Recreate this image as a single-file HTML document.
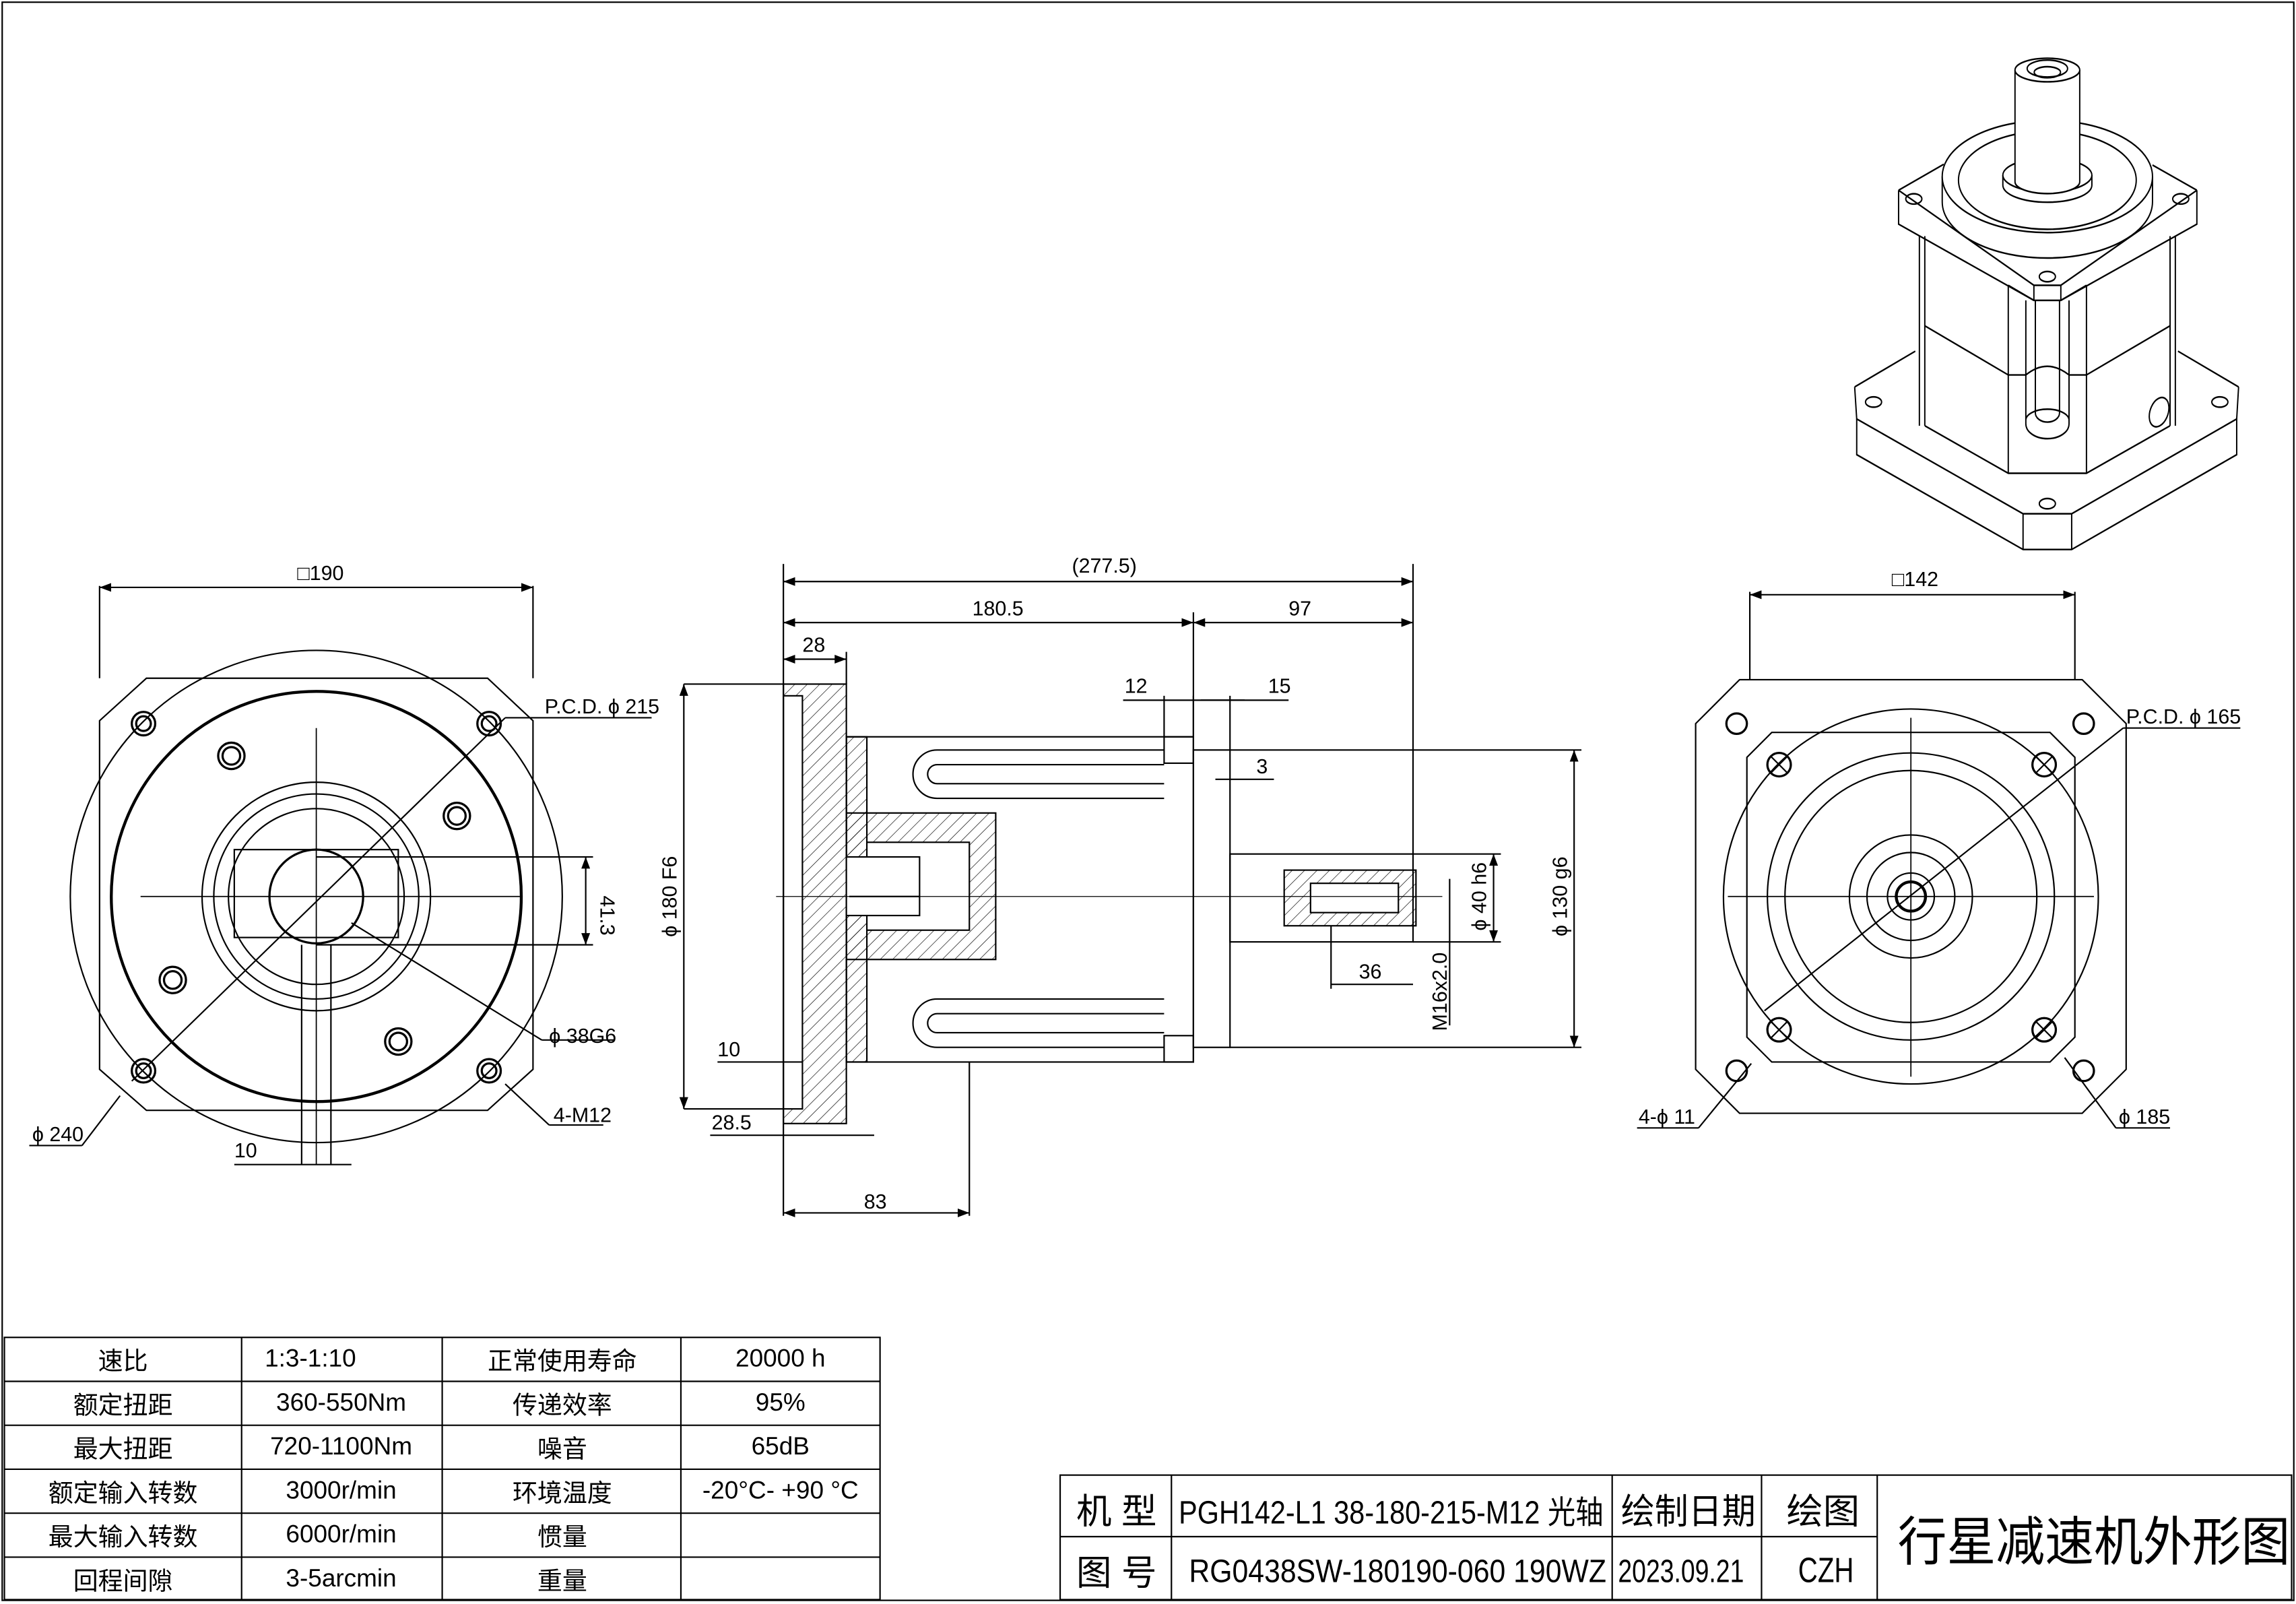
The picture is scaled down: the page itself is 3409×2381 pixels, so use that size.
<!DOCTYPE html>
<html><head><meta charset="utf-8"><style>
html,body{margin:0;padding:0;background:#fff}
svg{display:block}
text{font-family:"Liberation Sans","Noto Sans CJK SC",sans-serif;fill:#000}
</style></head><body>
<svg width="3409" height="2381" viewBox="0 0 1568 1095" preserveAspectRatio="none" xmlns="http://www.w3.org/2000/svg">
<defs>
<pattern id="h" width="6" height="6" patternUnits="userSpaceOnUse" patternTransform="rotate(45)"><line x1="0" y1="0" x2="0" y2="6" stroke="#000" stroke-width="0.6"/></pattern>
<marker id="a" markerWidth="8" markerHeight="6" refX="8" refY="3" orient="auto-start-reverse"><path d="M0,0 L8,3 L0,6 z" fill="#000"/></marker>
</defs>
<g fill="none" stroke="#000" stroke-width="1">
<rect x="1.5" y="1.5" width="1565" height="1091"/>

<!-- LEFT VIEW -->
<path d="M100,463 L333,463 L364,492 L364,730 L333,758 L100,758 L68,730 L68,492 Z"/>
<circle cx="216" cy="612" r="168"/>
<circle cx="216" cy="612" r="140" stroke-width="2"/>
<circle cx="216" cy="612" r="78"/>
<circle cx="216" cy="612" r="70"/>
<circle cx="216" cy="612" r="60"/>
<circle cx="216" cy="612" r="32" stroke-width="1.5"/>
<rect x="160" y="580" width="112" height="60"/>
<g stroke-width="1.5">
<circle cx="98" cy="494" r="8"/><circle cx="98" cy="494" r="5"/>
<circle cx="334" cy="494" r="8"/><circle cx="334" cy="494" r="5"/>
<circle cx="98" cy="731" r="8"/><circle cx="98" cy="731" r="5"/>
<circle cx="334" cy="731" r="8"/><circle cx="334" cy="731" r="5"/>
<circle cx="158" cy="516" r="9"/><circle cx="158" cy="516" r="6"/>
<circle cx="312" cy="557" r="9"/><circle cx="312" cy="557" r="6"/>
<circle cx="118" cy="669" r="9"/><circle cx="118" cy="669" r="6"/>
<circle cx="272" cy="711" r="9"/><circle cx="272" cy="711" r="6"/>
</g>
<line x1="96" y1="612" x2="356" y2="612" stroke-width="0.8"/>
<line x1="216" y1="497" x2="216" y2="795" stroke-width="0.8"/>
<line x1="206" y1="645" x2="206" y2="795"/><line x1="226" y1="645" x2="226" y2="795"/>
<line x1="68" y1="400" x2="68" y2="463"/><line x1="364" y1="400" x2="364" y2="463"/>
<line x1="68" y1="401" x2="364" y2="401" marker-start="url(#a)" marker-end="url(#a)"/>
<line x1="90" y1="738" x2="345" y2="490"/><line x1="345" y1="490" x2="445" y2="490"/>
<line x1="216" y1="585" x2="405" y2="585"/><line x1="216" y1="645" x2="405" y2="645"/>
<line x1="400" y1="585" x2="400" y2="645" marker-start="url(#a)" marker-end="url(#a)"/>
<line x1="240" y1="630" x2="370" y2="710"/><line x1="370" y1="710" x2="420" y2="710"/>
<line x1="345" y1="740" x2="375" y2="768"/><line x1="375" y1="768" x2="412" y2="768"/>
<line x1="82" y1="748" x2="56" y2="782"/><line x1="20" y1="782" x2="56" y2="782"/>
<line x1="160" y1="795" x2="240" y2="795"/>

<!-- MIDDLE VIEW -->
<rect x="535" y="467" width="43" height="300" fill="url(#h)"/>
<rect x="535" y="475" width="13" height="282" fill="#fff"/>
<rect x="578" y="503" width="237" height="222"/>
<rect x="578" y="503" width="14" height="222" fill="url(#h)"/>
<rect x="578" y="555" width="102" height="100" fill="url(#h)"/>
<rect x="592" y="575" width="70" height="60" fill="#fff"/>
<rect x="578" y="585" width="50" height="40" fill="#fff"/>
<line x1="580" y1="612" x2="628" y2="612"/>
<path d="M640,512 L795,512 M640,545 L795,545 M640,512 A16,16 0 0 0 640,545 M640,522 L795,522 M640,535 L795,535 M640,522 A6,6 0 0 0 640,535"/>
<path d="M640,682 L795,682 M640,715 L795,715 M640,682 A16,16 0 0 0 640,715 M640,692 L795,692 M640,705 L795,705 M640,692 A6,6 0 0 0 640,705"/>
<rect x="795" y="503" width="20" height="18"/><rect x="795" y="707" width="20" height="18"/>
<rect x="815" y="512" width="25" height="203"/>
<rect x="840" y="583" width="125" height="60"/>
<rect x="877" y="594" width="90" height="38" fill="url(#h)"/>
<rect x="895" y="603" width="60" height="20" fill="#fff"/>
<line x1="530" y1="612" x2="985" y2="612" stroke-width="0.6"/>
<line x1="535" y1="385" x2="535" y2="830"/>
<line x1="965" y1="385" x2="965" y2="583"/>
<line x1="815" y1="418" x2="815" y2="503"/>
<line x1="535" y1="397" x2="965" y2="397" marker-start="url(#a)" marker-end="url(#a)"/>
<line x1="535" y1="425" x2="815" y2="425" marker-start="url(#a)" marker-end="url(#a)"/>
<line x1="815" y1="425" x2="965" y2="425" marker-start="url(#a)" marker-end="url(#a)"/>
<line x1="535" y1="450" x2="578" y2="450" marker-start="url(#a)" marker-end="url(#a)"/>
<line x1="578" y1="445" x2="578" y2="467"/>
<line x1="795" y1="475" x2="795" y2="503"/><line x1="815" y1="475" x2="815" y2="503"/><line x1="840" y1="475" x2="840" y2="512"/>
<line x1="767" y1="478" x2="850" y2="478"/><line x1="820" y1="478" x2="880" y2="478"/>
<line x1="830" y1="532" x2="870" y2="532"/><line x1="840" y1="512" x2="1080" y2="512"/><line x1="840" y1="715" x2="1080" y2="715"/>
<line x1="1075" y1="512" x2="1075" y2="715" marker-start="url(#a)" marker-end="url(#a)"/>
<line x1="467" y1="467" x2="535" y2="467"/><line x1="467" y1="757" x2="535" y2="757"/>
<line x1="467" y1="467" x2="467" y2="757" marker-start="url(#a)" marker-end="url(#a)"/>
<line x1="965" y1="583" x2="1025" y2="583"/><line x1="965" y1="643" x2="1025" y2="643"/>
<line x1="1020" y1="583" x2="1020" y2="643" marker-start="url(#a)" marker-end="url(#a)"/>
<line x1="990" y1="600" x2="990" y2="700"/>
<line x1="909" y1="632" x2="909" y2="675"/><line x1="909" y1="672" x2="965" y2="672"/>
<line x1="490" y1="725" x2="548" y2="725"/><line x1="485" y1="775" x2="597" y2="775"/>
<line x1="535" y1="828" x2="662" y2="828" marker-start="url(#a)" marker-end="url(#a)"/>
<line x1="662" y1="725" x2="662" y2="830"/>

<!-- RIGHT VIEW -->
<path d="M1188,464 L1422,464 L1452,494 L1452,730 L1422,760 L1188,760 L1158,730 L1158,494 Z"/>
<path d="M1210,500 L1400,500 L1417,517 L1417,708 L1400,725 L1210,725 L1193,708 L1193,517 Z"/>
<circle cx="1305" cy="612" r="128"/><circle cx="1305" cy="612" r="98"/><circle cx="1305" cy="612" r="86"/>
<circle cx="1305" cy="612" r="42"/><circle cx="1305" cy="612" r="30"/><circle cx="1305" cy="612" r="16"/><circle cx="1305" cy="612" r="10" stroke-width="2"/>
<g stroke-width="1.5">
<circle cx="1186" cy="494" r="7"/><circle cx="1423" cy="494" r="7"/><circle cx="1186" cy="731" r="7"/><circle cx="1423" cy="731" r="7"/>
<circle cx="1215" cy="522" r="8"/><circle cx="1396" cy="522" r="8"/><circle cx="1215" cy="703" r="8"/><circle cx="1396" cy="703" r="8"/>
</g>
<path d="M1209,516 l12,12 M1221,516 l-12,12 M1390,516 l12,12 M1402,516 l-12,12 M1209,697 l12,12 M1221,697 l-12,12 M1390,697 l12,12 M1402,697 l-12,12"/>
<line x1="1180" y1="612" x2="1430" y2="612" stroke-width="0.8"/><line x1="1305" y1="490" x2="1305" y2="735" stroke-width="0.8"/>
<line x1="1195" y1="404" x2="1195" y2="464"/><line x1="1417" y1="404" x2="1417" y2="464"/>
<line x1="1195" y1="406" x2="1417" y2="406" marker-start="url(#a)" marker-end="url(#a)"/>
<line x1="1205" y1="690" x2="1450" y2="497"/><line x1="1450" y1="497" x2="1530" y2="497"/>
<line x1="1196" y1="726" x2="1160" y2="770"/><line x1="1118" y1="770" x2="1160" y2="770"/>
<line x1="1410" y1="722" x2="1445" y2="770"/><line x1="1445" y1="770" x2="1482" y2="770"/>

<!-- ISO VIEW -->
<g stroke-width="0.9" transform="translate(0,38) scale(1,1.257) translate(0,-40)">
<path d="M1266.6,219.9 L1308,200.5 M1528.8,219.9 L1487.4,200.5"/>
<path d="M1266.6,219.9 L1268,237.3 L1381.6,288.8 L1414.8,288.8 L1527.5,237.3 L1528.8,219.9"/>
<path d="M1268,237.3 L1268,256.7 L1381.6,308.2 L1414.8,308.2 L1527.5,256.7 L1527.5,237.3 M1381.6,288.8 L1381.6,308.2 M1414.8,288.8 L1414.8,308.2"/>
<ellipse cx="1279.5" cy="228.1" rx="5.5" ry="2.8"/><ellipse cx="1516" cy="228.1" rx="5.5" ry="2.8"/><ellipse cx="1398.2" cy="283.3" rx="5.5" ry="2.8"/>
<path d="M1310.8,138 L1310.8,241 M1314.5,138 L1314.5,241 M1482,138 L1482,241 M1485.6,138 L1485.6,241" />
<path d="M1314.5,241 L1371.5,266.8 L1424.9,266.8 L1482,241"/>
<path d="M1314.5,186.7 L1371.5,213.4 L1383.5,213.4 Q1398,204 1413,213.4 L1424.9,213.4 L1482,186.7"/>
<path d="M1371.5,164.7 L1371.5,266.8 M1424.9,164.7 L1424.9,266.8 M1371.5,164.7 L1389,172.9 M1424.9,164.7 L1407.4,172.9"/>
<path d="M1383.5,172.9 L1383.5,240 A14.75,8 0 0 0 1413,240 L1413,172.9 M1390,172.9 L1390,234 A8.25,5 0 0 0 1406.5,234 L1406.5,172.9 M1383.5,238 A14.75,6 0 0 1 1413,238"/>
<ellipse cx="1474.5" cy="233.6" rx="6" ry="8.5" transform="rotate(30 1474.5 233.6)"/>
<path d="M1296.6,113.1 L1327.4,99 M1500.3,113.1 L1470,99.4"/>
<path d="M1296.6,113.1 L1389,164.7 L1407.4,164.7 L1500.3,113.1 M1296.6,113.1 L1296.6,131.5 L1389,172.9 L1407.4,172.9 L1500.3,131.5 L1500.3,113.1 M1389,164.7 L1389,172.9 M1407.4,164.7 L1407.4,172.9"/>
<ellipse cx="1307" cy="117.8" rx="5.5" ry="2.8"/><ellipse cx="1489.3" cy="117.8" rx="5.5" ry="2.8"/><ellipse cx="1398.2" cy="160" rx="5.5" ry="2.8"/>
<path d="M1326.4,105.6 L1326.4,119.4 A71.8,30.5 0 0 0 1470,119.4 L1470,105.6"/>
<ellipse cx="1398.2" cy="105.6" rx="71.8" ry="30.5" fill="#fff"/>
<ellipse cx="1398.2" cy="107.6" rx="60.7" ry="26.7"/>
<path d="M1367.8,104.9 L1367.8,110.4 A30.4,9.2 0 0 0 1428.6,110.4 L1428.6,104.9"/>
<ellipse cx="1398.2" cy="104.9" rx="30.4" ry="9.2" fill="#fff"/>
<path d="M1376.1,47.8 L1376.1,108.5 A22.1,6.4 0 0 0 1420.3,108.5 L1420.3,47.8" fill="#fff"/>
<ellipse cx="1398.2" cy="47.8" rx="22.1" ry="6.4" fill="#fff"/>
<ellipse cx="1398.2" cy="47" rx="13.8" ry="4.6"/><ellipse cx="1398.2" cy="49" rx="9" ry="3"/>
</g>

<!-- TABLE -->
<rect x="3" y="913" width="598" height="179"/>
<path d="M3,943 H601 M3,973 H601 M3,1003 H601 M3,1033 H601 M3,1063 H601 M165,913 V1092 M302,913 V1092 M465,913 V1092"/>
<!-- TITLE -->
<rect x="724" y="1007" width="841" height="85"/>
<path d="M724,1049 H1282 M800,1007 V1092 M1101,1007 V1092 M1203,1007 V1092 M1282,1007 V1092"/>
</g>

<g font-size="14">
<text x="203" y="396">□190</text>
<text x="372" y="487">P.C.D.  ϕ 215</text>
<text x="400" y="625" transform="rotate(90 400 625)" text-anchor="middle" dy="-10">41.3</text>
<text x="375" y="712">ϕ 38G6</text>
<text x="378" y="766">4-M12</text>
<text x="22" y="779">ϕ 240</text>
<text x="160" y="790">10</text>
<text x="732" y="391">(277.5)</text>
<text x="664" y="420">180.5</text>
<text x="880" y="420">97</text>
<text x="548" y="445">28</text>
<text x="768" y="473">12</text>
<text x="866" y="473">15</text>
<text x="858" y="528">3</text>
<text x="462" y="612" transform="rotate(-90 462 612)" text-anchor="middle">ϕ 180 F6</text>
<text x="1015" y="612" transform="rotate(-90 1015 612)" text-anchor="middle">ϕ 40 h6</text>
<text x="1070" y="612" transform="rotate(-90 1070 612)" text-anchor="middle">ϕ 130 g6</text>
<text x="988" y="677" transform="rotate(-90 988 677)" text-anchor="middle">M16x2.0</text>
<text x="928" y="668">36</text>
<text x="490" y="721">10</text>
<text x="486" y="771">28.5</text>
<text x="590" y="825">83</text>
<text x="1292" y="400">□142</text>
<text x="1452" y="494">P.C.D.   ϕ 165</text>
<text x="1119" y="767">4-ϕ 11</text>
<text x="1447" y="767">ϕ 185</text>
</g>
<g font-size="17" text-anchor="middle">
<text x="84" y="935">速比</text><text x="212" y="933">1:3-1:10</text><text x="384" y="935">正常使用寿命</text><text x="533" y="933">20000 h</text>
<text x="84" y="965">额定扭距</text><text x="233" y="963">360-550Nm</text><text x="384" y="965">传递效率</text><text x="533" y="963">95%</text>
<text x="84" y="995">最大扭距</text><text x="233" y="993">720-1100Nm</text><text x="384" y="995">噪音</text><text x="533" y="993">65dB</text>
<text x="84" y="1025">额定输入转数</text><text x="233" y="1023">3000r/min</text><text x="384" y="1025">环境温度</text><text x="533" y="1023">-20°C- +90 °C</text>
<text x="84" y="1055">最大输入转数</text><text x="233" y="1053">6000r/min</text><text x="384" y="1055">惯量</text>
<text x="84" y="1085">回程间隙</text><text x="233" y="1083">3-5arcmin</text><text x="384" y="1085">重量</text>
</g>
<g font-size="24">
<text x="735" y="1040" textLength="55" lengthAdjust="spacingAndGlyphs">机 型</text>
<text x="805" y="1040" font-size="22" textLength="290" lengthAdjust="spacingAndGlyphs">PGH142-L1 38-180-215-M12 光轴</text>
<text x="1107" y="1040" textLength="92" lengthAdjust="spacingAndGlyphs">绘制日期</text>
<text x="1220" y="1040" textLength="50" lengthAdjust="spacingAndGlyphs">绘图</text>
<text x="735" y="1082" textLength="55" lengthAdjust="spacingAndGlyphs">图 号</text>
<text x="812" y="1080" font-size="22" textLength="285" lengthAdjust="spacingAndGlyphs">RG0438SW-180190-060 190WZ</text>
<text x="1105" y="1080" font-size="22" textLength="86" lengthAdjust="spacingAndGlyphs">2023.09.21</text>
<text x="1228" y="1080" textLength="38" lengthAdjust="spacingAndGlyphs">CZH</text>
<text x="1296" y="1065" font-size="36" textLength="268" lengthAdjust="spacingAndGlyphs">行星减速机外形图</text>
</g>
</svg>
</body></html>
